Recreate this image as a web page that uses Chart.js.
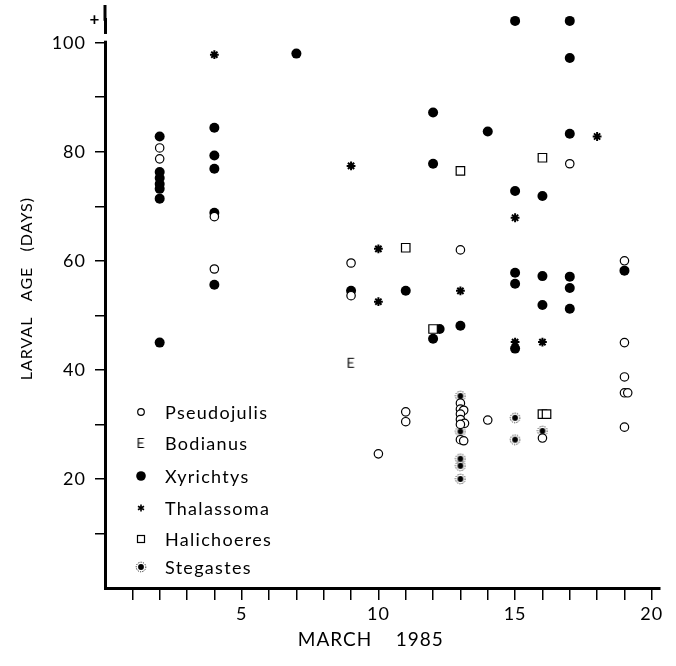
<!DOCTYPE html>
<html lang="en">

<head>
  <meta charset="UTF-8" />
  <title>Larval age</title>
  <script src="https://cdn.jsdelivr.net/npm/chart.js"></script>
  <style>
    html, body { margin: 0; padding: 0; background: #fff; }
  </style>
</head>

<body>
  <canvas id="grafico" width="676" height="666"></canvas>

<script>
  // values (day of March 1985, larval age in days)
  var pseudojulisDias = [2, 2, 4, 4, 9, 9, 10, 11, 11, 13, 13, 13, 13.12, 13, 13, 13.15, 13, 13, 13.12, 14, 16, 17, 19, 19, 19, 19, 19.12, 19];
  var pseudojulisIdades = [80.7, 78.7, 68.1, 58.5, 59.6, 53.6, 24.6, 32.3, 30.5, 62, 33.9, 32.8, 32.6, 31.9, 30.9, 30.2, 30.0, 27.2, 27.0, 30.8, 27.5, 77.8, 60, 45, 38.7, 35.8, 35.8, 29.5];

  var bodianusDias = [9];
  var bodianusIdades = [41.3];

  var xyrichtysDias = [2, 2, 2, 2, 2, 2, 2, 4, 4, 4, 4, 4, 7, 9, 11, 12, 12, 12, 12.24, 13, 14, 15, 15, 15, 15, 15, 16, 16, 16, 17, 17, 17, 17, 17, 17, 19];
  var xyrichtysIdades = [82.8, 76.3, 75.2, 74.1, 73.2, 71.4, 45.0, 84.4, 79.3, 76.9, 68.8, 55.6, 98, 54.5, 54.5, 87.2, 77.8, 45.7, 47.5, 48.1, 83.7, 104, 72.8, 57.8, 55.8, 43.9, 71.9, 57.2, 51.9, 104, 97.2, 83.3, 57.1, 55, 51.2, 58.2];

  var thalassomaDias = [4, 9, 10, 10, 13, 15, 15, 16, 18];
  var thalassomaIdades = [97.8, 77.4, 62.2, 52.5, 54.5, 67.9, 45.1, 45.1, 82.8];

  var halichoeresDias = [11, 12, 13, 16, 16, 16.15];
  var halichoeresIdades = [62.4, 47.5, 76.5, 78.9, 31.9, 31.9];

  var stegastesDias = [13, 13, 13, 13, 13, 15, 15, 16];
  var stegastesIdades = [35.2, 28.7, 23.7, 22.4, 20, 31.2, 27.2, 28.8];

  var diasRotulados = [5, 10, 15, 20];
  var idadesRotuladas = [20, 40, 60, 80, 100];

  function pontos(xs, ys) {
    var lista = [];
    for (var i = 0; i < xs.length; i++) {
      lista.push({ x: xs[i], y: ys[i] });
    }
    return lista;
  }

  // the "E" symbol used for Bodianus
  function letraE() {
    var c = document.createElement("canvas");
    c.width = 9;
    c.height = 12;
    var g = c.getContext("2d");
    g.strokeStyle = "#000";
    g.lineWidth = 1.2;
    g.beginPath();
    g.moveTo(7.5, 1.5); g.lineTo(1.8, 1.5); g.lineTo(1.8, 10.5); g.lineTo(7.5, 10.5);
    g.moveTo(1.8, 6); g.lineTo(6.5, 6);
    g.stroke();
    return c;
  }

  // dot inside a dotted ring, for Stegastes
  function anelPontilhado() {
    var c = document.createElement("canvas");
    c.width = 12;
    c.height = 12;
    var g = c.getContext("2d");
    g.fillStyle = "#000";
    g.beginPath();
    g.arc(6, 6, 2.9, 0, 2 * Math.PI);
    g.fill();
    g.strokeStyle = "#222";
    g.lineWidth = 1;
    g.setLineDash([1.2, 1.2]);
    g.beginPath();
    g.arc(6, 6, 4.8, 0, 2 * Math.PI);
    g.stroke();
    return c;
  }

  var simboloE = letraE();
  var simboloAnel = anelPontilhado();

  var fonte = "Lato";

  // legend drawn inside the plot, lower left; also the broken axis top and the "+"
  var extras = {
    id: "extras",
    beforeDraw: function (chart) {
      chart.ctx.letterSpacing = "1px";
    },
    afterDraw: function (chart) {
      var ctx = chart.ctx;
      var y = chart.scales.y;
      var esq = chart.chartArea.left;
      ctx.save();

      // short piece of axis above the break
      ctx.strokeStyle = "#000";
      ctx.lineWidth = 3;
      ctx.beginPath();
      ctx.moveTo(esq, 5);
      ctx.lineTo(esq, chart.chartArea.top + 1);
      ctx.stroke();

      var topo = y.getPixelForValue(101.6);
      var base = y.getPixelForValue(100) - 2;
      ctx.fillStyle = "#fff";
      ctx.fillRect(esq - 4, topo, 8, base - topo);

      ctx.fillStyle = "#000";
      ctx.font = "bold 17px " + fonte;
      ctx.textAlign = "center";
      ctx.textBaseline = "middle";
      ctx.fillText("+", esq - 10, y.getPixelForValue(104.3));

      var linhas = [412, 443, 476, 508, 539, 567];
      ctx.font = "18px " + fonte;
      ctx.letterSpacing = "1.3px";
      ctx.textAlign = "left";
      chart.data.datasets.forEach(function (ds, i) {
        var px = 141, py = linhas[i];
        ctx.fillStyle = "#000";
        ctx.strokeStyle = "#000";
        ctx.lineWidth = 1.2;
        if (ds.pointStyle === "circle") {
          ctx.beginPath();
          ctx.arc(px, py, ds.legendaRaio, 0, 2 * Math.PI);
          if (ds.backgroundColor === "#000") ctx.fill();
          else ctx.stroke();
        } else if (ds.pointStyle === "rect") {
          ctx.strokeRect(px - 3.5, py - 3.5, 7, 7);
        } else if (ds.pointStyle === "star") {
          ctx.lineWidth = 1.6;
          ctx.beginPath();
          for (var k = 0; k < 3; k++) {
            var a = Math.PI / 2 + k * Math.PI / 3;
            ctx.moveTo(px + 3.5 * Math.cos(a), py + 3.5 * Math.sin(a));
            ctx.lineTo(px - 3.5 * Math.cos(a), py - 3.5 * Math.sin(a));
          }
          ctx.stroke();
        } else {
          ctx.drawImage(ds.pointStyle, px - ds.pointStyle.width / 2, py - ds.pointStyle.height / 2);
        }
        ctx.fillText(ds.label, 165, py + 1);
      });
      ctx.restore();
    },
  };

  new Chart(grafico, {
    type: "scatter",
    data: {
      datasets: [
        {
          label: "Pseudojulis",
          data: pontos(pseudojulisDias, pseudojulisIdades),
          pointStyle: "circle",
          pointRadius: 4.2,
          borderWidth: 1.2,
          borderColor: "#000",
          backgroundColor: "#fff",
          legendaRaio: 3.3,
          order: 0,
        },
        {
          label: "Bodianus",
          data: pontos(bodianusDias, bodianusIdades),
          pointStyle: simboloE,
          order: 3,
        },
        {
          label: "Xyrichtys",
          data: pontos(xyrichtysDias, xyrichtysIdades),
          pointStyle: "circle",
          pointRadius: 5,
          borderWidth: 0,
          borderColor: "#000",
          backgroundColor: "#000",
          legendaRaio: 4.8,
          order: 5,
        },
        {
          label: "Thalassoma",
          data: pontos(thalassomaDias, thalassomaIdades),
          pointStyle: "star",
          pointRadius: 4.4,
          borderWidth: 2,
          borderColor: "#000",
          backgroundColor: "#000",
          order: 2,
        },
        {
          label: "Halichoeres",
          data: pontos(halichoeresDias, halichoeresIdades),
          pointStyle: "rect",
          pointRadius: 6,
          borderWidth: 1.2,
          borderColor: "#000",
          backgroundColor: "#fff",
          order: 1,
        },
        {
          label: "Stegastes",
          data: pontos(stegastesDias, stegastesIdades),
          pointStyle: simboloAnel,
          order: 4,
        },
      ],
    },
    options: {
      responsive: false,
      animation: false,
      events: [],
      datasets: { scatter: { clip: false } },
      layout: { padding: { top: 0, right: 16, left: 0, bottom: 0 } },
      plugins: {
        legend: { display: false },
        tooltip: { enabled: false },
      },
      scales: {
        x: {
          type: "linear",
          min: 0,
          max: 20.3,
          afterFit: function (s) { s.height = 78; },
          afterBuildTicks: function (s) {
            var t = [];
            for (var d = 1; d <= 20; d++) t.push({ value: d });
            s.ticks = t;
          },
          ticks: {
            autoSkip: false,
            maxRotation: 0,
            padding: 3,
            color: "#000",
            font: { family: fonte, size: 18 },
            callback: function (v) { return diasRotulados.indexOf(v) >= 0 ? v : ""; },
          },
          grid: {
            drawOnChartArea: false,
            drawTicks: true,
            tickLength: 12,
            color: "#000",
            lineWidth: 1.5,
          },
          border: { display: true, color: "#000", width: 3 },
          title: {
            display: true,
            text: "MARCH    1985    ",
            color: "#000",
            font: { family: fonte, size: 19 },
            padding: { top: 15, bottom: 15 },
          },
        },
        y: {
          min: 0,
          max: 104.2,
          afterFit: function (s) { s.width = 105; },
          afterBuildTicks: function (s) {
            var t = [];
            for (var v = 10; v <= 100; v += 10) t.push({ value: v });
            s.ticks = t;
          },
          ticks: {
            padding: 9,
            color: "#000",
            font: { family: fonte, size: 18 },
            callback: function (v) { return idadesRotuladas.indexOf(v) >= 0 ? v : ""; },
          },
          grid: {
            drawOnChartArea: false,
            drawTicks: true,
            tickLength: 10,
            color: "#000",
            lineWidth: 1.5,
          },
          border: { display: true, color: "#000", width: 3 },
          title: {
            display: true,
            text: "      LARVAL   AGE   (DAYS)",
            color: "#000",
            font: { family: fonte, size: 16 },
            padding: { top: 17, bottom: 17 },
          },
        },
      },
    },
    plugins: [extras],
  });
</script>
</body>

</html>
